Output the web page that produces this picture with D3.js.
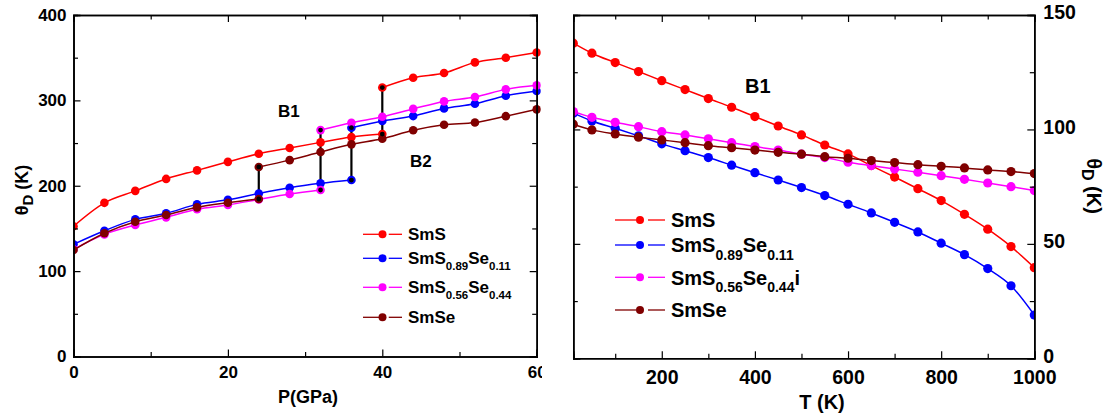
<!DOCTYPE html>
<html>
<head>
<meta charset="utf-8">
<script src="https://cdn.jsdelivr.net/npm/d3@7"></script>
<style>
  body { margin: 0; background: #fff; }
  svg { display: block; font-family: "Liberation Sans", Arial, sans-serif; font-weight: bold; }
</style>
</head>
<body>
<svg width="1111" height="417"></svg>
<script>
// left panel: theta_D vs pressure, B1 and B2 phases
var pB1 = [0, 4, 8, 12, 16, 20, 24, 28, 32, 36, 40]
var pB2 = [24, 28, 32, 36, 40, 44, 48, 52, 56, 60]
var smsB1 = [152.6, 180, 194, 208, 218, 228, 237.5, 244.3, 250.8, 257, 260.5]
var smsB2 = [315, 326.5, 332, 344.5, 350, 356]              // P = 40..60
var se11B1 = [131.4, 147.3, 160.6, 167.7, 178.2, 183.5, 191, 197.7, 202.8, 206.7]   // P = 0..36
var se11B2 = [268, 275.8, 281.6, 290.6, 296, 305.4, 311]     // P = 36..60
var se44B1 = [125.5, 143, 154, 163, 172.4, 177.4, 184, 190.3, 195]   // P = 0..32
var se44B2 = [265.2, 273.8, 280.8, 290, 298.8, 303.9, 312.9, 317.6]  // P = 32..60
var smseB1 = [124.7, 144.3, 157.8, 165.7, 174.7, 180.1, 184.5]       // P = 0..24
var smseB2 = [222, 230, 239.5, 248.5, 255, 265, 271.5, 274, 281.5, 289.5] // P = 24..60

// right panel: theta_D vs temperature
var temps = [10, 50, 100, 150, 200, 250, 300, 350, 400, 450, 500, 550, 600, 650, 700, 750, 800, 850, 900, 950, 1000]
var smsT = [137.7, 133.3, 129.2, 125.3, 121.3, 117.4, 113.5, 109.7, 105.6, 101.5, 97.6, 93.2, 89.3, 84.2, 79.2, 74.1, 68.9, 62.9, 56.4, 48.8, 39.6]
var se11T = [107.1, 103.7, 100.5, 97.2, 93.7, 90.7, 87.7, 84.4, 81.1, 77.9, 74.6, 71.1, 67.3, 63.5, 59.4, 55.2, 50.3, 45.3, 39.2, 31.7, 18.9]
var se44T = [107.8, 105.3, 103.1, 101.2, 99.0, 97.6, 95.9, 94.2, 92.5, 91.0, 89.2, 87.7, 85.7, 84.2, 82.7, 81.3, 79.8, 78.2, 76.6, 75.0, 73.3]
var smseT = [102.3, 99.8, 98.0, 96.6, 95.4, 94.2, 92.9, 92.0, 91.0, 90.0, 89.2, 88.1, 87.4, 86.4, 85.5, 84.6, 83.9, 83.2, 82.3, 81.6, 80.7]

var colors = ["#ff0000", "#0000ff", "#ff00ff", "#800000"]
// legend labels: [text, subscript, text, subscript, trailing]
var legendLeft = [["SmS"], ["SmS", "0.89", "Se", "0.11"], ["SmS", "0.56", "Se", "0.44"], ["SmSe"]]
var legendRight = [["SmS"], ["SmS", "0.89", "Se", "0.11"], ["SmS", "0.56", "Se", "0.44", "i"], ["SmSe"]]

var pMajor = [0, 20, 40, 60], pMinor = [10, 30, 50]
var thMajorL = [0, 100, 200, 300, 400], thMinorL = [50, 150, 250, 350]
var tMajor = [200, 400, 600, 800, 1000], tMinor = [100, 300, 500, 700, 900]
var thMajorR = [0, 50, 100, 150], thMinorR = [25, 75, 125]

var svg = d3.select("svg")
var defs = svg.append("defs")

var x1 = d3.scaleLinear().domain([0, 60]).range([73.5, 536.7])
var y1 = d3.scaleLinear().domain([0, 400]).range([356.5, 15])
var x2 = d3.scaleLinear().domain([10, 1000]).range([573.3, 1034.3])
var y2 = d3.scaleLinear().domain([0, 150]).range([358.3, 15])

function pts(xs, ys, offset) {
    offset = offset || 0
    return ys.map(function(v, i) { return [xs[i + offset], v] })
}

function drawAxes(g, x, y, xMaj, xMin, yMaj, yMin, fs, yRight) {
    var r = x.range(), t = y.range()
    var big = 7, small = 4.5
    // bottom
    g.append("g").attr("transform", "translate(0," + t[0] + ")")
        .call(d3.axisBottom(x).tickValues(xMaj).tickSize(-big).tickPadding(yRight ? 12 : 9).tickFormat(d3.format("d")))
        .call(function(a) { a.selectAll("text").style("font-size", fs + "px") })
    g.append("g").attr("transform", "translate(0," + t[0] + ")")
        .call(d3.axisBottom(x).tickValues(xMin).tickSize(-small).tickFormat(""))
    // top
    g.append("g").attr("transform", "translate(0," + t[1] + ")")
        .call(d3.axisTop(x).tickValues(xMaj).tickSize(-big).tickFormat(""))
    g.append("g").attr("transform", "translate(0," + t[1] + ")")
        .call(d3.axisTop(x).tickValues(xMin).tickSize(-small).tickFormat(""))
    // left
    g.append("g").attr("transform", "translate(" + r[0] + ",0)")
        .call(d3.axisLeft(y).tickValues(yMaj).tickSize(-big).tickPadding(yRight ? 0 : 7).tickFormat(yRight ? "" : d3.format("d")))
        .call(function(a) { a.selectAll("text").style("font-size", fs + "px") })
    g.append("g").attr("transform", "translate(" + r[0] + ",0)")
        .call(d3.axisLeft(y).tickValues(yMin).tickSize(-small).tickFormat(""))
    // right
    g.append("g").attr("transform", "translate(" + r[1] + ",0)")
        .call(d3.axisRight(y).tickValues(yMaj).tickSize(-big).tickPadding(9).tickFormat(yRight ? d3.format("d") : ""))
        .call(function(a) { a.selectAll("text").style("font-size", fs + "px").attr("dy", "0.2em") })
    g.append("g").attr("transform", "translate(" + r[1] + ",0)")
        .call(d3.axisRight(y).tickValues(yMin).tickSize(-small).tickFormat(""))

    g.selectAll(".domain").attr("stroke", "#000").attr("stroke-width", 1.6)
    g.selectAll(".tick line").attr("stroke", "#000").attr("stroke-width", 1.2)
    g.selectAll(".tick text").attr("fill", "#000").style("font-family", "Liberation Sans, Arial, sans-serif").style("font-weight", "bold")
}

function drawSeries(g, x, y, data, color, r) {
    var line = d3.line().x(function(d) { return x(d[0]) }).y(function(d) { return y(d[1]) }).curve(d3.curveMonotoneX)
    g.append("path").attr("d", line(data)).attr("fill", "none").attr("stroke", color).attr("stroke-width", 1.5)
    g.selectAll(null).data(data).enter().append("circle")
        .attr("cx", function(d) { return x(d[0]) })
        .attr("cy", function(d) { return y(d[1]) })
        .attr("r", r).attr("fill", color)
}

function drawLegend(g, items, x0, rows, fs, subFs, subDy, len) {
    items.forEach(function(parts, i) {
        var yy = rows[i]
        var c = colors[i]
        g.append("line").attr("x1", x0).attr("x2", x0 + len * 0.42).attr("y1", yy).attr("y2", yy).attr("stroke", c).attr("stroke-width", 1.3)
        g.append("line").attr("x1", x0 + len * 0.66).attr("x2", x0 + len).attr("y1", yy).attr("y2", yy).attr("stroke", c).attr("stroke-width", 1.3)
        g.append("circle").attr("cx", x0 + len / 2).attr("cy", yy).attr("r", 4).attr("fill", c)
        var txt = g.append("text").attr("x", x0 + len + 6).attr("y", yy + fs * 0.36).style("font-size", fs + "px")
        parts.forEach(function(p, j) {
            var sub = (j % 2 === 1) && j < 4
            var prevSub = (j % 2 === 0) && j > 0
            var ts = txt.append("tspan").text(p)
            if (sub) ts.attr("dy", subDy).style("font-size", subFs + "px")
            else if (prevSub) ts.attr("dy", -subDy)
        })
    })
}

// ---------- left panel ----------
defs.append("clipPath").attr("id", "clipL").append("rect")
    .attr("x", 0).attr("y", 0).attr("width", 542).attr("height", 417)
defs.append("clipPath").attr("id", "plotL").append("rect")
    .attr("x", x1(0)).attr("y", y1(400)).attr("width", x1(60) - x1(0) + 4).attr("height", y1(0) - y1(400))

var left = svg.append("g").attr("clip-path", "url(#clipL)")
var plotL = left.append("g").attr("clip-path", "url(#plotL)")

var leftSeries = [
    [pts(pB1, smsB1), pts(pB2, smsB2, 4)],
    [pts(pB1, se11B1), pts(pB2, se11B2, 3)],
    [pts(pB1, se44B1), pts(pB2, se44B2, 2)],
    [pts(pB1, smseB1), pts(pB2, smseB2)]
]
// transition lines between last B1 point and first B2 point
leftSeries.forEach(function(s) {
    var a = s[0][s[0].length - 1], b = s[1][0]
    plotL.append("line").attr("x1", x1(a[0])).attr("x2", x1(b[0]))
        .attr("y1", y1(a[1])).attr("y2", y1(b[1])).attr("stroke", "#000").attr("stroke-width", 2.2)
})
leftSeries.forEach(function(s, i) {
    drawSeries(plotL, x1, y1, s[0], colors[i], 4.3)
    drawSeries(plotL, x1, y1, s[1], colors[i], 4.3)
})
leftSeries.forEach(function(s) {
    var a = s[0][s[0].length - 1], b = s[1][0]
    ;[a, b].forEach(function(d) {
        plotL.append("circle").attr("cx", x1(d[0])).attr("cy", y1(d[1])).attr("r", 2.4).attr("fill", "#000")
    })
})

drawAxes(left, x1, y1, pMajor, pMinor, thMajorL, thMinorL, 17, false)

left.append("text").attr("x", 278).attr("y", 117).style("font-size", "17px").text("B1")
left.append("text").attr("x", 410).attr("y", 166.5).style("font-size", "17px").text("B2")
left.append("text").attr("x", 308).attr("y", 403).attr("text-anchor", "middle").style("font-size", "18px").text("P(GPa)")
var yl = left.append("text").attr("transform", "translate(28,190) rotate(-90)").attr("text-anchor", "middle").style("font-size", "18px")
yl.append("tspan").text("θ")
yl.append("tspan").text("D").attr("dy", 5).style("font-size", "15px")
yl.append("tspan").text(" (K)").attr("dy", -5)

drawLegend(left, legendLeft, 363, [234.3, 258.3, 287.3, 317.3], 17, 11.5, 6, 39)

// ---------- right panel ----------
defs.append("clipPath").attr("id", "plotR").append("rect")
    .attr("x", x2(10)).attr("y", y2(150)).attr("width", x2(1000) - x2(10)).attr("height", y2(0) - y2(150))
var right = svg.append("g")
var plotR = right.append("g").attr("clip-path", "url(#plotR)")

;[smsT, se11T, se44T, smseT].forEach(function(s, i) {
    drawSeries(plotR, x2, y2, pts(temps, s), colors[i], 4.6)
})

drawAxes(right, x2, y2, tMajor, tMinor, thMajorR, thMinorR, 19.5, true)

right.append("text").attr("x", 745).attr("y", 93).style("font-size", "20px").text("B1")
right.append("text").attr("x", 822).attr("y", 409).attr("text-anchor", "middle").style("font-size", "20px").text("T (K)")
var yr = right.append("text").attr("transform", "translate(1087,186) rotate(90)").attr("text-anchor", "middle").style("font-size", "20px")
yr.append("tspan").text("θ")
yr.append("tspan").text("D").attr("dy", 5).style("font-size", "16px")
yr.append("tspan").text(" (K)").attr("dy", -5)

drawLegend(right, legendRight, 615, [220, 245, 277.3, 310], 20, 14, 7.5, 50)
</script>
</body>
</html>
